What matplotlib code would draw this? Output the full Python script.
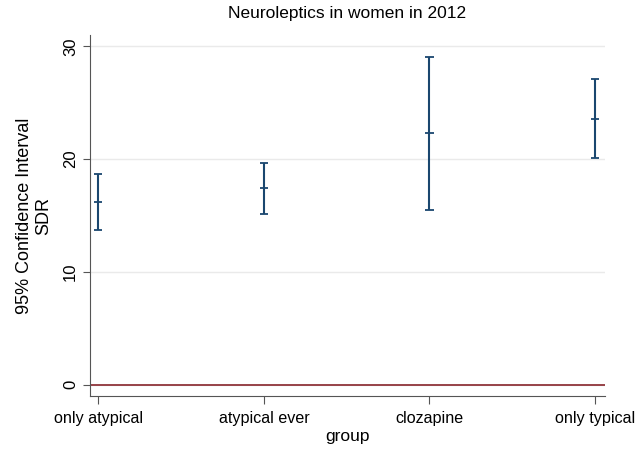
import matplotlib.pyplot as plt

groups = ["only atypical", "atypical ever", "clozapine", "only typical"]
means = [16.2, 17.4, 22.3, 23.6]
lower = [13.7, 15.1, 15.5, 20.1]
upper = [18.7, 19.7, 29.1, 27.1]

plt.rcParams["font.family"] = ["Liberation Sans", "DejaVu Sans"]

fig = plt.figure(figsize=(6.44, 4.5), dpi=100)
ax = fig.add_axes([0.1398, 0.12, 0.7996, 0.802])

x = list(range(1, len(groups) + 1))
navy = "#1a476f"

ax.axhline(0, color="#90353b", lw=1.3, zorder=2)
for xi, m, lo, hi in zip(x, means, lower, upper):
    ax.vlines(xi, lo, hi, color=navy, lw=1.5, zorder=3)
    for v in (lo, m, hi):
        ax.hlines(v, xi - 0.025, xi + 0.025, color=navy, lw=1.3, zorder=3)

ax.set_xlim(0.95, 4.06)
ax.set_ylim(-1, 31)
ax.set_yticks([0, 10, 20, 30])
ax.set_xticks(x)
ax.set_xticklabels(groups, fontsize=11.6)
ax.tick_params(axis="y", labelsize=12, length=5, color="#555555", labelrotation=90)
ax.tick_params(axis="x", length=6, color="#555555", pad=5)
for lab in ax.get_yticklabels():
    lab.set_va("center")
ax.grid(axis="y", color="#eaeaea", lw=1)
ax.set_axisbelow(True)
for s in ("top", "right"):
    ax.spines[s].set_visible(False)
for s in ("left", "bottom"):
    ax.spines[s].set_color("#555555")

ax.set_title("Neuroleptics in women in 2012", fontsize=12.5, pad=12)
ax.set_xlabel("group", fontsize=12.5, labelpad=2)
ax.set_ylabel("95% Confidence Interval\nSDR", fontsize=13, labelpad=8)

fig.savefig("out.png", dpi=100, facecolor="white")
